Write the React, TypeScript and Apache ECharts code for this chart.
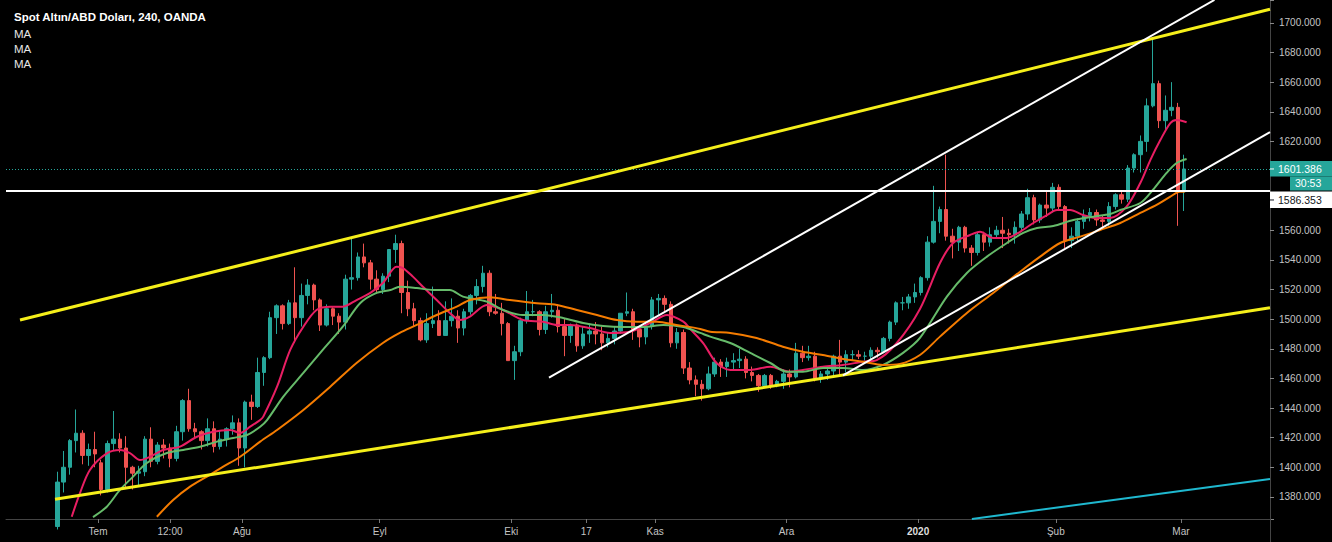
import React, { useEffect, useRef } from 'react';
import * as echarts from 'echarts';

// Trading-day index of the first candle (Jul 1 2019 = 0); one candle per trading day
const firstDayIndex = -7;

const open: number[] = [
  1360, 1390, 1400, 1418, 1423, 1408, 1412,
  1403, 1385, 1416, 1419, 1413, 1400, 1396, 1397, 1419, 1404,
  1415, 1413, 1406, 1424, 1445, 1426, 1424, 1418, 1426, 1414,
  1419, 1426, 1430, 1413, 1444, 1441, 1464, 1474, 1501, 1509,
  1497, 1511, 1501, 1516, 1523, 1513, 1496, 1507, 1502, 1498,
  1527, 1528, 1542, 1538, 1527, 1520, 1529, 1547, 1551, 1518,
  1507, 1499, 1486, 1497, 1499, 1489, 1499, 1502, 1494, 1505,
  1516, 1522, 1531, 1505, 1504, 1497, 1472, 1478, 1499, 1505,
  1505, 1493, 1505, 1506, 1495, 1489, 1496, 1482, 1490, 1492,
  1490, 1484, 1487, 1492, 1504, 1505, 1493, 1488, 1495, 1513,
  1514, 1510, 1484, 1491, 1467, 1459, 1456, 1453, 1463, 1471,
  1468, 1471, 1472, 1473, 1464, 1462, 1455, 1462, 1455, 1458,
  1463, 1461, 1477, 1474, 1475, 1460, 1463, 1465, 1475, 1471,
  1476, 1476, 1475, 1475, 1479, 1478, 1487, 1498, 1511, 1511,
  1515, 1518, 1528, 1552, 1566, 1574, 1556, 1552, 1562, 1548,
  1545, 1557, 1552, 1557, 1560, 1558, 1557, 1562, 1571, 1582,
  1567, 1577, 1575, 1589, 1576, 1553, 1556, 1566, 1570, 1572,
  1567, 1566, 1576, 1584, 1581, 1602, 1611, 1620, 1644, 1659,
  1634, 1641, 1643, 1586,
];
const high: number[] = [
  1397, 1411, 1419, 1439, 1425, 1416, 1424,
  1405, 1418, 1438, 1423, 1421, 1401, 1401, 1421, 1427, 1417,
  1419, 1416, 1428, 1446, 1453, 1430, 1425, 1433, 1431, 1425,
  1427, 1435, 1433, 1445, 1449, 1474, 1475, 1505, 1510, 1510,
  1513, 1535, 1524, 1527, 1524, 1514, 1510, 1508, 1504, 1530,
  1555, 1545, 1551, 1540, 1533, 1531, 1547, 1557, 1553, 1526,
  1511, 1501, 1504, 1522, 1506, 1512, 1514, 1506, 1507, 1517,
  1527, 1536, 1533, 1517, 1511, 1498, 1482, 1501, 1519, 1513,
  1506, 1509, 1517, 1510, 1500, 1497, 1497, 1495, 1497, 1498,
  1495, 1491, 1495, 1504, 1518, 1507, 1495, 1498, 1515, 1517,
  1516, 1512, 1494, 1493, 1471, 1462, 1459, 1468, 1474, 1473,
  1474, 1477, 1480, 1475, 1468, 1463, 1463, 1463, 1459, 1466,
  1466, 1484, 1482, 1482, 1478, 1465, 1467, 1476, 1486, 1479,
  1479, 1479, 1478, 1481, 1481, 1488, 1499, 1512, 1515, 1517,
  1524, 1529, 1556, 1590, 1576, 1611, 1561, 1563, 1563, 1550,
  1559, 1559, 1562, 1563, 1569, 1561, 1566, 1573, 1588, 1584,
  1578, 1587, 1592, 1591, 1577, 1562, 1568, 1574, 1575, 1574,
  1570, 1579, 1585, 1586, 1604, 1612, 1624, 1649, 1689, 1661,
  1651, 1660, 1646, 1611,
];
const low: number[] = [
  1358, 1383, 1395, 1410, 1402, 1401, 1400,
  1381, 1383, 1411, 1410, 1386, 1385, 1387, 1394, 1400, 1402,
  1406, 1400, 1404, 1418, 1424, 1420, 1412, 1414, 1410, 1412,
  1414, 1422, 1401, 1400, 1432, 1440, 1455, 1473, 1490, 1493,
  1496, 1484, 1495, 1510, 1506, 1492, 1495, 1496, 1490, 1493,
  1520, 1526, 1535, 1520, 1517, 1517, 1525, 1538, 1504, 1502,
  1495, 1485, 1484, 1494, 1489, 1489, 1495, 1484, 1489, 1503,
  1510, 1518, 1502, 1503, 1489, 1472, 1459, 1475, 1497, 1502,
  1489, 1490, 1501, 1491, 1475, 1484, 1478, 1480, 1484, 1483,
  1479, 1481, 1483, 1490, 1502, 1486, 1481, 1483, 1493, 1503,
  1505, 1481, 1480, 1463, 1456, 1448, 1445, 1452, 1461, 1461,
  1461, 1465, 1467, 1460, 1458, 1451, 1454, 1453, 1454, 1453,
  1454, 1460, 1471, 1472, 1458, 1457, 1459, 1461, 1462, 1464,
  1472, 1473, 1472, 1473, 1474, 1477, 1485, 1496, 1506, 1507,
  1511, 1516, 1526, 1551, 1558, 1553, 1541, 1546, 1545, 1536,
  1543, 1546, 1549, 1555, 1548, 1551, 1551, 1559, 1567, 1564,
  1565, 1569, 1572, 1573, 1548, 1548, 1553, 1561, 1566, 1563,
  1561, 1563, 1574, 1578, 1579, 1599, 1599, 1613, 1643, 1629,
  1628, 1637, 1563, 1573,
];
const close: number[] = [
  1390, 1400, 1418, 1423, 1408, 1412, 1409,
  1385, 1416, 1419, 1413, 1400, 1396, 1397, 1419, 1404, 1415,
  1413, 1406, 1424, 1445, 1426, 1424, 1418, 1426, 1414, 1419,
  1426, 1430, 1413, 1444, 1441, 1464, 1474, 1501, 1509, 1497,
  1511, 1501, 1516, 1523, 1513, 1496, 1507, 1502, 1498, 1527,
  1528, 1542, 1538, 1527, 1520, 1529, 1547, 1551, 1518, 1507,
  1499, 1486, 1497, 1499, 1489, 1499, 1502, 1494, 1505, 1516,
  1522, 1531, 1505, 1504, 1497, 1472, 1478, 1499, 1505, 1505,
  1493, 1505, 1506, 1495, 1489, 1496, 1482, 1490, 1492, 1490,
  1484, 1487, 1492, 1504, 1505, 1493, 1488, 1495, 1513, 1514,
  1510, 1484, 1491, 1467, 1459, 1456, 1453, 1463, 1471, 1468,
  1471, 1472, 1473, 1464, 1462, 1455, 1462, 1455, 1458, 1463,
  1461, 1477, 1474, 1475, 1460, 1463, 1465, 1475, 1471, 1476,
  1476, 1475, 1475, 1479, 1478, 1487, 1498, 1511, 1511, 1515,
  1518, 1528, 1552, 1566, 1574, 1556, 1552, 1562, 1548, 1545,
  1557, 1552, 1557, 1560, 1558, 1557, 1562, 1571, 1582, 1567,
  1577, 1575, 1589, 1576, 1553, 1556, 1566, 1570, 1572, 1567,
  1566, 1576, 1584, 1581, 1602, 1611, 1620, 1644, 1659, 1634,
  1641, 1643, 1586, 1601.386,
];

// Moving averages: [trading-day index, price]
const maFast: [number, number][] = [
  [-4.2, 1366.6], [-2.9, 1382.4], [-1.3, 1398.2], [1.4, 1409.4], [3.5, 1411.7], [5.1, 1409.6],
  [6.7, 1404.9], [8.3, 1407.1], [10.4, 1411.7], [13.1, 1413.9], [15.8, 1420.6], [18.4, 1424.0],
  [21.1, 1425.2], [22.7, 1423.2], [24.3, 1427.4], [25.9, 1431.9], [26.4, 1434.2], [28.6, 1454.4],
  [30.7, 1479.2], [32.8, 1494.9], [34.9, 1506.2], [37.1, 1508.4], [39.1, 1508.4], [41.3, 1512.9],
  [43.5, 1517.7], [45.5, 1524.4], [47.7, 1535.4], [48.7, 1534.5], [50.3, 1528.7], [51.9, 1521.9],
  [54.1, 1512.9], [56.2, 1504.2], [57.8, 1499.4], [59.4, 1501.7], [62.1, 1509.6], [64.7, 1506.2],
  [67.9, 1499.4], [71.1, 1498.3], [73.3, 1496.1], [75.4, 1496.1], [78.6, 1494.0], [81.8, 1490.7],
  [85.0, 1491.5], [88.2, 1497.4], [90.9, 1502.8], [93.5, 1498.3], [94.6, 1493.4], [96.7, 1483.7],
  [98.8, 1470.4], [101.0, 1465.7], [104.2, 1465.7], [107.4, 1467.9], [110.5, 1464.5], [112.6, 1465.7],
  [115.8, 1467.9], [119.0, 1469.1], [122.2, 1471.3], [124.4, 1472.4], [127.6, 1483.9], [131.3, 1506.9],
  [134.5, 1537.9], [136.6, 1551.4], [139.3, 1556.8], [140.9, 1559.0], [143.0, 1554.8], [145.2, 1554.8],
  [147.3, 1559.0], [149.4, 1564.9], [151.6, 1570.3], [153.2, 1573.7], [155.3, 1573.7], [157.4, 1570.3],
  [159.5, 1568.3], [161.7, 1568.3], [164.3, 1575.9], [166.5, 1591.9], [168.1, 1607.4], [169.7, 1620.9],
  [171.3, 1632.4], [172.3, 1634.5], [173.9, 1632.9],
];
const maMid: [number, number][] = [
  [-0.8, 1366.4], [1.4, 1373.4], [3.5, 1384.7], [5.6, 1393.7], [7.8, 1402.9], [11.0, 1409.6],
  [13.6, 1411.7], [16.3, 1413.9], [19.0, 1417.3], [21.6, 1419.8], [23.8, 1421.8], [25.9, 1427.4],
  [27.0, 1431.9], [29.6, 1447.7], [32.8, 1463.7], [35.9, 1479.2], [39.1, 1494.9], [41.9, 1510.9],
  [44.5, 1517.7], [46.7, 1519.7], [48.2, 1521.9], [50.9, 1521.0], [53.5, 1519.7], [56.2, 1519.7],
  [58.3, 1515.2], [62.1, 1511.8], [64.7, 1506.2], [67.9, 1502.8], [71.1, 1502.8], [74.3, 1500.8],
  [77.5, 1497.4], [80.7, 1495.4], [83.9, 1494.7], [87.1, 1494.7], [90.3, 1496.1], [93.5, 1494.7],
  [96.2, 1490.7], [97.8, 1488.2], [101.0, 1483.9], [104.2, 1477.2], [107.4, 1470.4], [110.0, 1464.5],
  [112.6, 1464.5], [115.8, 1467.0], [119.0, 1467.0], [122.2, 1465.7], [125.4, 1469.1], [128.6, 1477.2],
  [131.3, 1487.3], [135.6, 1515.2], [138.8, 1531.2], [142.0, 1542.2], [145.2, 1551.4], [147.8, 1558.2],
  [150.0, 1561.5], [152.6, 1562.9], [155.8, 1566.9], [159.0, 1569.2], [161.7, 1571.0], [163.3, 1573.7],
  [166.5, 1578.4], [168.5, 1587.2], [170.7, 1598.7], [172.3, 1605.4], [173.9, 1608.1],
];
const maSlow: [number, number][] = [
  [9.4, 1366.6], [12.0, 1377.9], [14.7, 1386.9], [17.4, 1393.7], [20.0, 1400.4], [22.7, 1407.1],
  [25.9, 1417.3], [28.6, 1425.2], [32.8, 1438.7], [37.1, 1454.4], [41.3, 1470.4], [45.5, 1483.9],
  [48.2, 1490.7], [50.9, 1496.1], [54.1, 1502.8], [57.3, 1508.4], [59.4, 1512.9], [62.6, 1514.8],
  [65.8, 1512.9], [70.1, 1510.7], [73.3, 1509.6], [76.5, 1506.2], [79.7, 1502.8], [82.9, 1499.4],
  [86.1, 1498.3], [89.3, 1498.3], [92.4, 1496.1], [96.2, 1493.4], [97.8, 1491.5], [101.0, 1490.7],
  [105.2, 1487.3], [109.4, 1481.4], [112.6, 1478.0], [115.8, 1475.8], [119.0, 1473.1], [122.2, 1471.3],
  [125.4, 1469.1], [128.1, 1469.8], [131.3, 1475.8], [134.5, 1488.2], [138.8, 1504.2], [143.0, 1517.7],
  [147.3, 1532.0], [150.5, 1542.2], [153.7, 1551.4], [156.9, 1555.7], [160.1, 1560.2], [163.3, 1564.9],
  [166.5, 1571.7], [169.1, 1577.1], [171.3, 1582.7], [172.8, 1586.0], [173.6, 1586.0],
];

// Drawn trend lines: [trading-day index, price]
const upperChannel: [number, number][] = [[-12.46, 1499.4], [187.22, 1709.2]];
const lowerChannel: [number, number][] = [[-6.87, 1378.4], [187.22, 1507.7]];
const whiteTrendA: [number, number][] = [[72.04, 1460.5], [178.35, 1715.5]];
const whiteTrendB: [number, number][] = [[119.0, 1462.0], [187.22, 1626.3]];
const cyanTrend: [number, number][] = [[139.6, 1365.1], [187.22, 1392.1]];

const hLinePrice = 1586.353;
const lastPrice = 1601.386;
const countdown = '30:53';

const xTickPos: number[] = [0, 11.5, 23, 45, 66, 78, 89, 110, 131, 153, 173];
const xTickLabels: string[] = ['Tem', '12:00', 'Ağu', 'Eyl', 'Eki', '17', 'Kas', 'Ara', '2020', 'Şub', 'Mar'];

const xMin = -14.7;
const xMax = 187.22;
const yMin = 1365.08;
const yMax = 1715.46;

const FONT = "'Liberation Sans', Arial, sans-serif";

export default function App() {
  const ref = useRef<HTMLDivElement>(null);

  useEffect(() => {
    document.body.style.margin = '0';
    document.body.style.background = '#000';
    const el = ref.current as HTMLDivElement;
    const chart = echarts.init(el, null, { renderer: 'svg' });

    const candles = open.map((o, i) => [firstDayIndex + i + 0.5, o, close[i], low[i], high[i]]);

    const lineSeries = (name: string, data: [number, number][], color: string, width: number, z: number, smooth: number | boolean = false) => ({
      type: 'line',
      name,
      data,
      showSymbol: false,
      symbol: 'none',
      smooth,
      clip: true,
      silent: true,
      z,
      lineStyle: { color, width },
    });

    const gridRight = 62;
    const gridBottom = 23;

    chart.setOption({
      animation: false,
      backgroundColor: '#000000',
      textStyle: { fontFamily: FONT },
      grid: { left: 6, right: gridRight, top: 0, bottom: gridBottom, containLabel: false },
      xAxis: {
        type: 'value',
        min: xMin,
        max: xMax,
        splitLine: { show: false },
        axisLine: { show: true, onZero: false, lineStyle: { color: '#444444', width: 1 } },
        axisTick: { show: true, customValues: xTickPos, length: 4, lineStyle: { color: '#777777' } },
        axisLabel: {
          customValues: xTickPos,
          color: '#c4c4c4',
          fontSize: 10,
          margin: 7,
          formatter: (v: number) => {
            const i = xTickPos.findIndex((p) => Math.abs(p - v) < 1e-6);
            if (i < 0) return '';
            const t = xTickLabels[i];
            return t === '2020' ? '{b|' + t + '}' : t;
          },
          rich: { b: { fontWeight: 'bold', color: '#dddddd', fontSize: 10 } },
        },
      },
      yAxis: {
        type: 'value',
        position: 'right',
        min: yMin,
        max: yMax,
        scale: true,
        splitNumber: 18,
        minInterval: 20,
        maxInterval: 20,
        splitLine: { show: false },
        axisLine: { show: true, onZero: false, lineStyle: { color: '#444444', width: 1 } },
        axisTick: { show: true, length: 4, lineStyle: { color: '#888888' } },
        axisLabel: {
          color: '#c4c4c4',
          fontSize: 10,
          margin: 9,
          formatter: (v: number) => (Math.abs(v / 20 - Math.round(v / 20)) > 1e-6 ? '' : v.toFixed(3)),
        },
      },
      series: [
        {
          type: 'candlestick',
          name: 'XAUUSD',
          data: candles,
          encode: { x: 0, y: [1, 2, 3, 4] },
          barWidth: 4,
          clip: true,
          z: 2,
          itemStyle: {
            color: '#26a69a',
            color0: '#ef5350',
            borderColor: '#26a69a',
            borderColor0: '#ef5350',
            borderWidth: 1,
          },
          markLine: {
            silent: true,
            symbol: ['none', 'none'],
            label: { show: false },
            animation: false,
            data: [
              { yAxis: lastPrice, lineStyle: { color: '#26a69a', width: 1, type: [1, 2] } },
              { yAxis: hLinePrice, lineStyle: { color: '#ffffff', width: 2, type: 'solid' } },
            ],
          },
        },
        lineSeries('MA fast', maFast, '#e91e63', 2, 4, 0.3),
        lineSeries('MA mid', maMid, '#66bb6a', 2, 4, 0.3),
        lineSeries('MA slow', maSlow, '#f57c00', 2, 4, 0.3),
        lineSeries('Upper channel', upperChannel, '#f5ef1a', 3, 6),
        lineSeries('Lower channel', lowerChannel, '#f5ef1a', 3, 6),
        lineSeries('Trend A', whiteTrendA, '#ffffff', 2, 6),
        lineSeries('Trend B', whiteTrendB, '#ffffff', 2, 6),
        lineSeries('Cyan trend', cyanTrend, '#1fb8cf', 2, 6),
      ],
    });

    const yP = chart.convertToPixel({ yAxisIndex: 0 }, lastPrice) as number;
    const xR = 1332 - gridRight;
    const bottomY = 542 - gridBottom;

    chart.setOption({
      graphic: [
        { type: 'text', z: 100, style: { x: 14, y: 17, text: 'Spot Altın/ABD Doları, 240, OANDA', fill: '#ffffff', fontSize: 11.5, fontWeight: 'bold', fontFamily: FONT, verticalAlign: 'middle' } },
        { type: 'text', z: 100, style: { x: 14, y: 33.7, text: 'MA', fill: '#e6e6e6', fontSize: 11.5, fontFamily: FONT, verticalAlign: 'middle' } },
        { type: 'text', z: 100, style: { x: 14, y: 48.7, text: 'MA', fill: '#e6e6e6', fontSize: 11.5, fontFamily: FONT, verticalAlign: 'middle' } },
        { type: 'text', z: 100, style: { x: 14, y: 63.7, text: 'MA', fill: '#e6e6e6', fontSize: 11.5, fontFamily: FONT, verticalAlign: 'middle' } },

        { type: 'line', z: 90, shape: { x1: xR + 0.5, y1: bottomY, x2: xR + 0.5, y2: 542 }, style: { stroke: '#444444', lineWidth: 1 } },

        { type: 'rect', z: 100, shape: { x: xR, y: yP - 8, width: 62, height: 15.5 }, style: { fill: '#26a69a' } },
        { type: 'line', z: 101, shape: { x1: xR, y1: yP, x2: xR + 4, y2: yP }, style: { stroke: '#ffffff', lineWidth: 1 } },
        { type: 'text', z: 101, style: { x: xR + 8, y: yP, text: lastPrice.toFixed(3), fill: '#ffffff', fontSize: 10.5, fontFamily: FONT, verticalAlign: 'middle' } },

        { type: 'rect', z: 100, shape: { x: xR + 20, y: yP + 7.5, width: 42, height: 14 }, style: { fill: '#26a69a' } },
        { type: 'text', z: 101, style: { x: xR + 25, y: yP + 14.5, text: countdown, fill: '#ffffff', fontSize: 10.5, fontFamily: FONT, verticalAlign: 'middle' } },

        { type: 'rect', z: 100, shape: { x: xR, y: yP + 22.5, width: 62, height: 16.5 }, style: { fill: '#ffffff' } },
        { type: 'line', z: 101, shape: { x1: xR, y1: yP + 31, x2: xR + 4, y2: yP + 31 }, style: { stroke: '#131722', lineWidth: 1 } },
        { type: 'text', z: 101, style: { x: xR + 8, y: yP + 31, text: hLinePrice.toFixed(3), fill: '#131722', fontSize: 10.5, fontFamily: FONT, verticalAlign: 'middle' } },
      ],
    });

    return () => {
      chart.dispose();
    };
  }, []);

  return <div ref={ref} style={{ width: 1332, height: 542, background: '#000000' }} />;
}
